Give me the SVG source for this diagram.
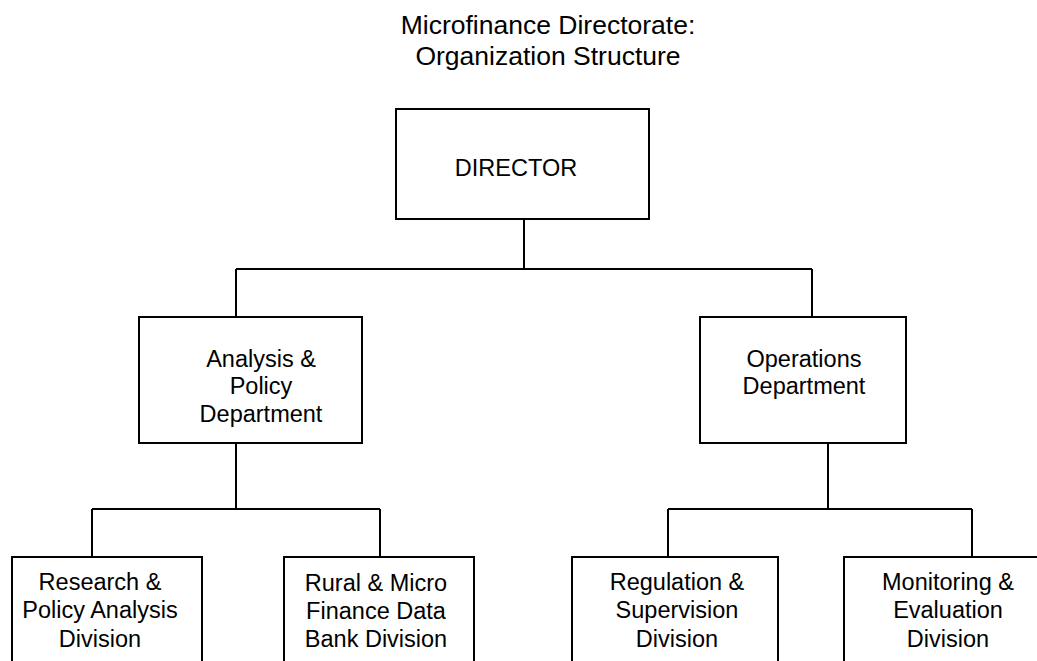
<svg xmlns="http://www.w3.org/2000/svg" width="1037" height="661" viewBox="0 0 1037 661">
<style>
.box{fill:#fff;stroke:#000;stroke-width:2}
.ln{fill:none;stroke:#000;stroke-width:2}
text{font-family:"Liberation Sans",Arial,sans-serif;font-size:23.5px;fill:#000;text-anchor:middle}
#title text{font-size:26.5px}
</style>
<rect width="1037" height="661" fill="#fff"/>
<g id="title">
<text x="548" y="34">Microfinance Directorate:</text>
<text x="548" y="65">Organization Structure</text>
</g>
<g id="connectors" class="ln">
<path class="ln" d="M524 219V269M236 269H812M236 269V317M812 269V317"/>
<path class="ln" d="M236 443V509M92 509H380M92 509V557M380 509V557"/>
<path class="ln" d="M828 443V509M668 509H972M668 509V557M972 509V557"/>
</g>
<g id="director">
<rect class="box" x="396" y="109" width="253" height="110"/>
<text x="516" y="176">DIRECTOR</text>
</g>
<g id="analysis">
<rect class="box" x="139" y="317" width="223" height="126"/>
<text x="261" y="367">Analysis &amp;</text>
<text x="261" y="394">Policy</text>
<text x="261" y="422">Department</text>
</g>
<g id="operations">
<rect class="box" x="700" y="317" width="206" height="126"/>
<text x="804" y="367">Operations</text>
<text x="804" y="394">Department</text>
</g>
<g id="research">
<rect class="box" x="12" y="557" width="190" height="130"/>
<text x="100" y="590">Research &amp;</text>
<text x="100" y="618">Policy Analysis</text>
<text x="100" y="647">Division</text>
</g>
<g id="rural">
<rect class="box" x="284" y="557" width="190" height="130"/>
<text x="376" y="591">Rural &amp; Micro</text>
<text x="376" y="619">Finance Data</text>
<text x="376" y="647">Bank Division</text>
</g>
<g id="regulation">
<rect class="box" x="572" y="557" width="206" height="130"/>
<text x="677" y="590">Regulation &amp;</text>
<text x="677" y="618">Supervision</text>
<text x="677" y="647">Division</text>
</g>
<g id="monitoring">
<rect class="box" x="844" y="557" width="220" height="130"/>
<text x="948" y="590">Monitoring &amp;</text>
<text x="948" y="618">Evaluation</text>
<text x="948" y="647">Division</text>
</g>
</svg>
